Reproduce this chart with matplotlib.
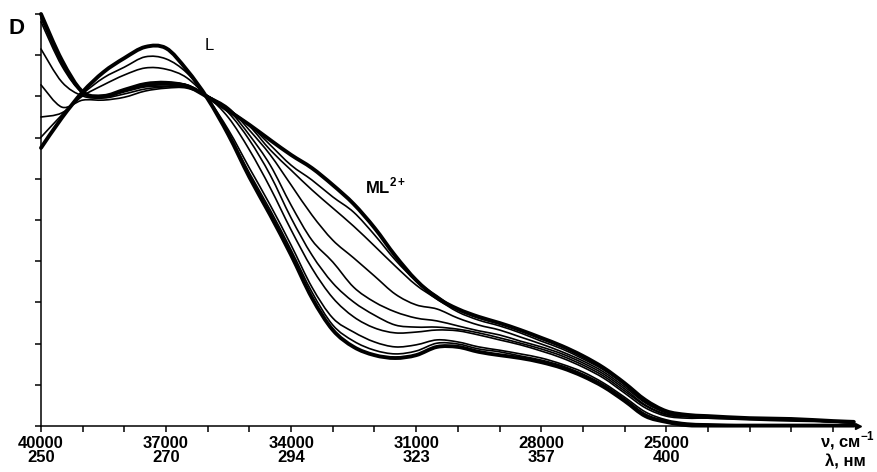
import numpy as np
import matplotlib
matplotlib.use("Agg")
import matplotlib.pyplot as plt
from matplotlib.path import Path
from matplotlib.patches import PathPatch

plt.rcParams['font.family'] = ['Liberation Sans', 'DejaVu Sans']
plt.rcParams['mathtext.fontset'] = 'custom'
plt.rcParams['mathtext.rm'] = 'Liberation Sans'
plt.rcParams['mathtext.bf'] = 'Liberation Sans:bold'

# wavenumbers, cm-1
nu = [40000, 39500, 39000, 38500, 38000, 37500, 37000, 36500, 36000, 35500,
      35000, 34500, 34000, 33500, 33000, 32500, 32000, 31500, 31000, 30500,
      30000, 29500, 29000, 28500, 28000, 27500, 27000, 26500, 26000, 25500,
      25000, 24500, 24000, 23000, 22000, 21000, 20500]

# free ligand L
d_L = [0.675, 0.748, 0.811, 0.859, 0.893, 0.920, 0.917, 0.864, 0.794, 0.706,
       0.604, 0.512, 0.415, 0.311, 0.233, 0.192, 0.172, 0.165, 0.172, 0.192,
       0.192, 0.180, 0.172, 0.165, 0.155, 0.141, 0.121, 0.095, 0.061, 0.024,
       0.010, 0.002, 0.001, 0.001, 0.001, 0.001, 0.001]
d_1 = [0.701, 0.755, 0.806, 0.845, 0.871, 0.896, 0.891, 0.857, 0.794, 0.711,
       0.614, 0.524, 0.427, 0.325, 0.245, 0.206, 0.184, 0.175, 0.182, 0.201,
       0.199, 0.187, 0.180, 0.170, 0.160, 0.146, 0.126, 0.100, 0.066, 0.029,
       0.012, 0.005, 0.002, 0.002, 0.001, 0.001, 0.001]
d_2 = [0.750, 0.760, 0.801, 0.828, 0.852, 0.869, 0.866, 0.845, 0.794, 0.718,
       0.626, 0.536, 0.439, 0.337, 0.262, 0.228, 0.204, 0.192, 0.197, 0.209,
       0.204, 0.192, 0.184, 0.175, 0.165, 0.150, 0.131, 0.104, 0.070, 0.034,
       0.015, 0.007, 0.005, 0.002, 0.002, 0.001, 0.001]
d_3 = [0.828, 0.774, 0.791, 0.791, 0.798, 0.813, 0.820, 0.820, 0.798, 0.748,
       0.670, 0.578, 0.476, 0.383, 0.311, 0.265, 0.238, 0.226, 0.228, 0.233,
       0.231, 0.221, 0.209, 0.197, 0.182, 0.165, 0.143, 0.116, 0.080, 0.044,
       0.024, 0.019, 0.019, 0.015, 0.012, 0.010, 0.007]
d_4 = [0.915, 0.835, 0.801, 0.796, 0.806, 0.818, 0.823, 0.823, 0.801, 0.760,
       0.694, 0.609, 0.505, 0.415, 0.347, 0.301, 0.269, 0.245, 0.240, 0.240,
       0.235, 0.226, 0.214, 0.201, 0.187, 0.170, 0.148, 0.121, 0.085, 0.049,
       0.027, 0.022, 0.019, 0.017, 0.015, 0.010, 0.007]
d_5 = [0.981, 0.874, 0.808, 0.798, 0.811, 0.823, 0.825, 0.825, 0.801, 0.767,
       0.706, 0.633, 0.536, 0.451, 0.398, 0.337, 0.301, 0.277, 0.262, 0.255,
       0.243, 0.231, 0.221, 0.206, 0.192, 0.175, 0.153, 0.126, 0.090, 0.051,
       0.029, 0.024, 0.022, 0.017, 0.015, 0.010, 0.007]
d_6 = [0.990, 0.879, 0.808, 0.798, 0.813, 0.825, 0.828, 0.825, 0.801, 0.772,
       0.718, 0.658, 0.585, 0.512, 0.451, 0.408, 0.364, 0.320, 0.294, 0.284,
       0.262, 0.245, 0.233, 0.216, 0.199, 0.180, 0.158, 0.131, 0.095, 0.056,
       0.032, 0.024, 0.022, 0.017, 0.015, 0.010, 0.007]
d_7 = [0.995, 0.883, 0.811, 0.801, 0.816, 0.828, 0.830, 0.828, 0.801, 0.769,
       0.728, 0.670, 0.621, 0.573, 0.529, 0.485, 0.437, 0.388, 0.342, 0.308,
       0.277, 0.257, 0.243, 0.226, 0.206, 0.187, 0.163, 0.136, 0.100, 0.058,
       0.034, 0.027, 0.024, 0.019, 0.017, 0.012, 0.010]
d_8 = [0.998, 0.886, 0.811, 0.801, 0.816, 0.830, 0.833, 0.828, 0.801, 0.767,
       0.731, 0.682, 0.633, 0.597, 0.556, 0.519, 0.464, 0.403, 0.352, 0.316,
       0.282, 0.262, 0.248, 0.231, 0.211, 0.192, 0.167, 0.138, 0.102, 0.061,
       0.036, 0.027, 0.024, 0.019, 0.017, 0.012, 0.010]
# complex ML2+
d_ML = [1.000, 0.888, 0.811, 0.801, 0.816, 0.830, 0.833, 0.825, 0.798, 0.765,
        0.731, 0.694, 0.658, 0.626, 0.585, 0.539, 0.481, 0.413, 0.354, 0.311,
        0.284, 0.265, 0.250, 0.233, 0.214, 0.194, 0.170, 0.141, 0.104, 0.063,
        0.036, 0.027, 0.024, 0.019, 0.017, 0.012, 0.010]

spectra = [d_L, d_1, d_2, d_3, d_4, d_5, d_6, d_7, d_8, d_ML]
widths = [2.8, 1.2, 1.2, 1.2, 1.2, 1.2, 1.2, 1.2, 1.2, 2.8]

tick_nu = [40000, 37000, 34000, 31000, 28000, 25000]
tick_lam = ['250', '270', '294', '323', '357', '400']


def smooth_path(x, y):
    # excel-like smoothed line through the read points
    pts = np.column_stack([x, y]).astype(float)
    n = len(pts)
    verts = [pts[0]]
    codes = [Path.MOVETO]
    for i in range(n - 1):
        p0 = pts[i - 1] if i > 0 else pts[i]
        p1 = pts[i]
        p2 = pts[i + 1]
        p3 = pts[i + 2] if i + 2 < n else pts[i + 1]
        verts += [p1 + (p2 - p0) / 6, p2 - (p3 - p1) / 6, p2]
        codes += [Path.CURVE4] * 3
    return Path(verts, codes)


fig = plt.figure(figsize=(8.77, 4.72), dpi=100)
ax = fig.add_axes([41 / 877, 46 / 472, (858 - 41) / 877, (458 - 46) / 472])

for d, lw in zip(spectra, widths):
    p = PathPatch(smooth_path(nu, d), fill=False, edgecolor='black', lw=lw,
                  joinstyle='round', capstyle='round', clip_on=False)
    ax.add_patch(p)

ax.set_xlim(40000, 20400)
ax.set_ylim(0, 1.0)

for s in ['top', 'right']:
    ax.spines[s].set_visible(False)
for s in ['left', 'bottom']:
    ax.spines[s].set_linewidth(1.1)

ax.set_xticks(np.arange(40000, 20400, -1000))
labels = []
for t in np.arange(40000, 20400, -1000):
    if t in tick_nu:
        labels.append(f"{t}\n{tick_lam[tick_nu.index(t)]}")
    else:
        labels.append("")
ax.set_xticklabels(labels, fontsize=12, fontweight='bold', linespacing=0.95)
ax.set_yticks(np.arange(0, 1.01, 0.1))
ax.set_yticklabels([])
ax.tick_params(axis='both', direction='out', length=4, width=1.1, pad=3)

ax.plot(1, 0, '>', color='black', ms=4, transform=ax.transAxes, clip_on=False)

fig.text(8 / 877, 1 - 28 / 472, 'D', fontsize=16, fontweight='bold', va='center')
fig.text(205 / 877, 1 - 45 / 472, 'L', fontsize=12, va='center')
fig.text(365 / 877, 1 - 186 / 472, r'ML$^{\mathbf{2+}}$', fontsize=12,
         fontweight='bold', va='center')
fig.text(848 / 877, 1 - 441 / 472, r'ν, см$^{\mathbf{-1}}$', fontsize=12,
         fontweight='bold', ha='center', va='center')
fig.text(845 / 877, 1 - 462 / 472, 'λ, нм', fontsize=12, fontweight='bold',
         ha='center', va='center')

fig.savefig('out.png', dpi=100)
